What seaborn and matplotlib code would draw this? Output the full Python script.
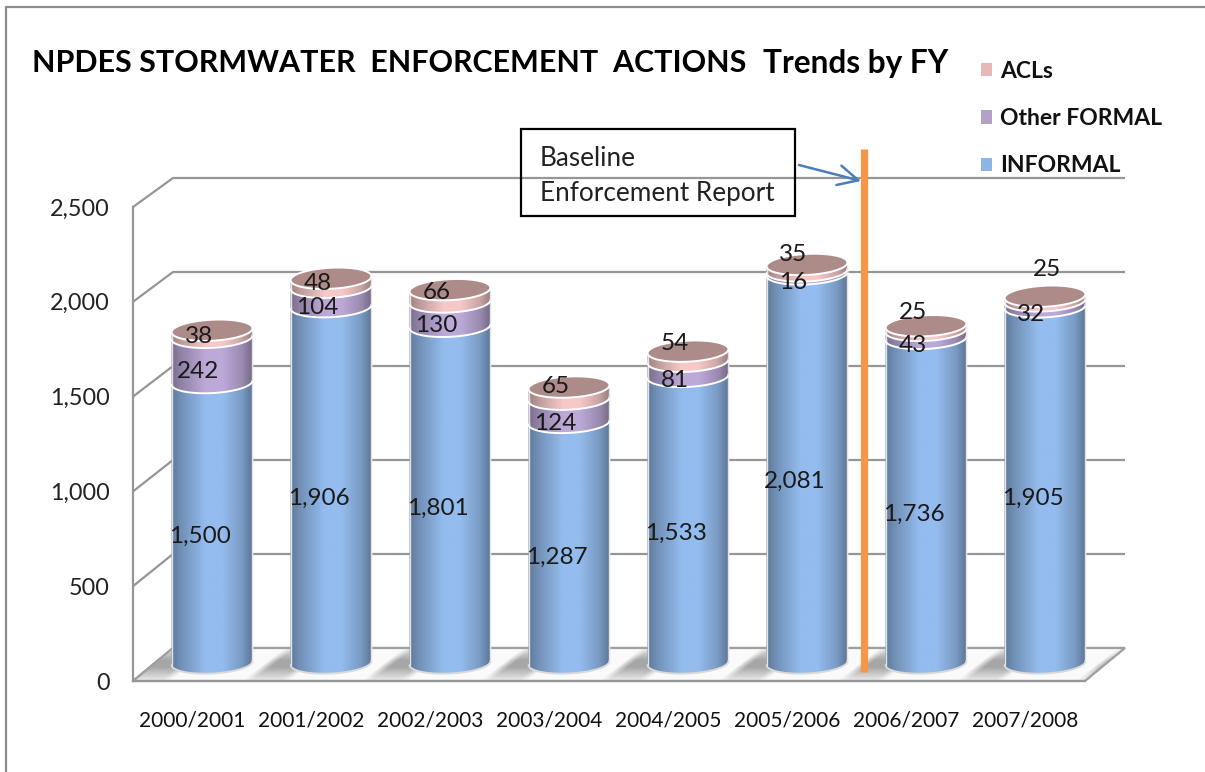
import numpy as np
import pandas as pd
import matplotlib
matplotlib.use("Agg")
import matplotlib.pyplot as plt
import seaborn as sns
from matplotlib.lines import Line2D
from matplotlib.path import Path
from matplotlib.patches import Polygon, Rectangle
from matplotlib.transforms import Affine2D, IdentityTransform

years = ["2000/2001", "2001/2002", "2002/2003", "2003/2004",
         "2004/2005", "2005/2006", "2006/2007", "2007/2008"]
informal = [1500, 1906, 1801, 1287, 1533, 2081, 1736, 1905]
other_formal = [242, 104, 130, 124, 81, 16, 43, 32]
acls = [38, 48, 66, 65, 54, 35, 25, 25]
yticks = [0, 500, 1000, 1500, 2000, 2500]

# label lift of the ACL numbers above their segment (pixels, hand-placed in the source)
acl_lift = [11, 12, 16, 21, 26, 26, 29, 42]

W, H = 1205, 772
DPI = 100
sns.set_theme(style="white")
plt.rcParams["font.family"] = ["Lato", "DejaVu Sans"]

fig = plt.figure(figsize=(W / DPI, H / DPI), dpi=DPI, facecolor="white")
ax = fig.add_axes([133 / W, (H - 681) / H, (1085 - 133) / W, (681 - 207) / H])
ax.set_facecolor("none")

df = pd.DataFrame({"year": years, "INFORMAL": informal,
                   "Other FORMAL": other_formal, "ACLs": acls})
BAR_W = 80 / 119
legend_cols = {"INFORMAL": "#8EB4E3", "Other FORMAL": "#B3A2C7", "ACLs": "#E6B8B7"}
base_cols = {"INFORMAL": "#94BCEE", "Other FORMAL": "#BCA9D8", "ACLs": "#F6C8C8"}
series = ["INFORMAL", "Other FORMAL", "ACLs"]

bottom = np.zeros(len(years))
for name in series:
    sns.barplot(data=df, x="year", y=name, bottom=bottom, color=base_cols[name],
                width=BAR_W, saturation=1, ax=ax, zorder=2, errorbar=None)
    bottom = bottom + df[name].to_numpy()

ax.set_xlim(-0.5, 7.5)
ax.set_ylim(0, 2500)
ax.set_yticks(yticks)
ax.set_yticklabels([f"{v:,}" for v in yticks])
ax.set_xlabel("")
ax.set_ylabel("")
ax.tick_params(axis="y", length=0, pad=17, labelsize=16.8, labelcolor="#222222")
ax.tick_params(axis="x", length=0, pad=21, labelsize=15, labelcolor="#111111")
for s in ["top", "right"]:
    ax.spines[s].set_visible(False)
for s in ["left", "bottom"]:
    ax.spines[s].set_color("#969696")
    ax.spines[s].set_linewidth(1.6)
    ax.spines[s].set_zorder(1)

# the bars stand in the middle of the chart's depth
ybase = H - 681
mid_tf = Affine2D().translate(0, -ybase).scale(1, 0.986).translate(19.5, ybase + 18)
for p in ax.patches:
    p.set_transform(ax.transData + mid_tf)
    p.set_clip_on(False)

idt = IdentityTransform()


def px(i, v):
    return mid_tf.transform(ax.transData.transform((i, v)))


RX, RY, TILT = 40.5, 10.5, np.deg2rad(3)


def arc(c, t0, t1, n=60):
    t = np.linspace(t0, t1, n)
    x, y = RX * np.cos(t), RY * np.sin(t)
    return np.column_stack([c[0] + x * np.cos(TILT) - y * np.sin(TILT),
                            c[1] + x * np.sin(TILT) + y * np.cos(TILT)])


def shade(hex_col):
    rgb = np.array(matplotlib.colors.to_rgb(hex_col))
    u = np.linspace(0, 1, 256)
    f = np.interp(u, [0, .12, .42, .62, .85, 1], [.62, .76, 1, 1, .82, .58])
    return (f[:, None] * rgb)[None, :, :]


# back wall, floor, grid
for v in yticks:
    k = v / 500
    back = Affine2D().translate(40, 33 - 0.8 * k)
    ax.hlines(v, -0.5, 7.5, transform=ax.transData + back, color="#969696",
              lw=1.6, zorder=0.5, clip_on=False)
    a = ax.transData.transform((-0.5, v))
    b = back.transform(a)
    ax.add_line(Line2D([a[0], b[0]], [a[1], b[1]], transform=idt, color="#969696",
                       lw=1.6, zorder=0.5, clip_on=False))

f0 = ax.transData.transform((-0.5, 0))
f1 = ax.transData.transform((7.5, 0))
floor_pts = np.array([f0, f1, f1 + [40, 33], f0 + [40, 33]])
fy, fx = np.mgrid[0:34, 0:1000]
# soft diagonal streaks cast between the cylinders (row 0 is the back of the floor)
phase = (fx - 147 + (fy - 22) * 1.3) / 119 * 2 * np.pi
streak = np.clip(np.cos(phase) * 2.2 - 0.7, 0, 1)
edge = np.clip(1.2 - np.abs(fy - 16) / 17, 0, 1)
gray = 0.98 - 0.33 * streak * edge
floor_img = ax.imshow(gray, cmap="gray", vmin=0, vmax=1, aspect="auto",
                      extent=(f0[0], f0[0] + 1000, f0[1], f0[1] + 34),
                      transform=idt, zorder=0.6, origin="upper", interpolation="bilinear")
floor_img.set_clip_box(fig.bbox)
floor_img.set_clip_path(Path(floor_pts), idt)
ax.add_patch(Polygon(floor_pts, closed=True, fill=False, ec="#A0A0A0", lw=1.6,
                     transform=idt, zorder=0.7, clip_on=False))

# cylinders on top of the seaborn bars
for i in range(len(years)):
    v0 = 0
    for name in series:
        v1 = v0 + df[name][i]
        c0, c1 = px(i, v0), px(i, v1)
        outline = np.vstack([arc(c0, np.pi, 2 * np.pi), arc(c1, 0, np.pi)])
        im = ax.imshow(shade(base_cols[name]), aspect="auto",
                       extent=(c0[0] - RX - 2, c0[0] + RX + 2,
                               c0[1] - 20, c1[1] + 20),
                       transform=idt, zorder=3, interpolation="bilinear")
        im.set_clip_box(fig.bbox)
        im.set_clip_path(Path(outline), idt)
        col = "#DADADA" if name == "INFORMAL" else "white"
        low = arc(c0, np.pi, 2 * np.pi)
        ax.add_line(Line2D(low[:, 0], low[:, 1], transform=idt, color=col, lw=1.4,
                           zorder=3.2, clip_on=False))
        for sx in (0, -1):
            ax.add_line(Line2D([low[sx, 0], low[sx, 0]], [low[sx, 1], c1[1]],
                               transform=idt, color="#E4E4E4", lw=1.0, zorder=3.2,
                               clip_on=False))
        v0 = v1
    top = arc(px(i, v0), 0, 2 * np.pi)
    ax.add_patch(Polygon(top, closed=True, fc="#AD8B88", ec="white", lw=1.4,
                         transform=idt, zorder=3.4, clip_on=False))

# value labels lie on the front plane
lab_kw = dict(xycoords="data", textcoords="offset pixels", ha="center", va="center",
              fontsize=17.5, color="#1A1A1A", zorder=6, annotation_clip=False)
for i in range(len(years)):
    ax.annotate(f"{informal[i]:,}", (i, informal[i] / 2), xytext=(7, 2), **lab_kw)
    ax.annotate(f"{other_formal[i]}", (i, informal[i] + other_formal[i] / 2),
                xytext=(6, 2), **lab_kw)
    ax.annotate(f"{acls[i]}", (i, informal[i] + other_formal[i] + acls[i] / 2),
                xytext=(6 if i < 7 else 21, acl_lift[i]), **lab_kw)

# orange marker between 2005/2006 and 2006/2007
ax.plot([5.64, 5.64], [47, 2806], color="#F79646", lw=5.2, solid_capstyle="butt",
        zorder=4, clip_on=False)

# call-out box
ax.add_patch(Rectangle((521, H - 216), 274, 87, fill=False, ec="black", lw=1.6,
                       transform=idt, zorder=5, clip_on=False))
fig.text(540 / W, 1 - 159 / H, "Baseline", fontsize=18.8, color="#222222",
         va="center", ha="left", zorder=6)
fig.text(540 / W, 1 - 193 / H, "Enforcement Report", fontsize=18.8, color="#222222",
         va="center", ha="left", zorder=6)
ax.annotate("", xy=(861, H - 181), xytext=(799, H - 165), xycoords="figure pixels",
            textcoords="figure pixels", zorder=5,
            arrowprops=dict(arrowstyle="->,head_length=1.2,head_width=0.6",
                            color="#4A7EBB", lw=1.8, shrinkA=0, shrinkB=0))

# title
fig.text(32 / W, 1 - 63 / H, "NPDES STORMWATER  ENFORCEMENT  ACTIONS", fontsize=21.85,
         fontweight="bold", color="black", va="center", ha="left")
fig.text(763 / W, 1 - 63 / H, "Trends by FY", fontsize=22.8, fontweight="bold",
         color="black", va="center", ha="left")

# legend
handles = [Rectangle((0, 0), 1, 1, fc=legend_cols[n], ec="none") for n in reversed(series)]
fig.legend(handles, list(reversed(series)), loc="upper left", frameon=False,
           bbox_to_anchor=(981 / W, 1 - 61 / H),
           prop=dict(family="Lato", weight="bold", size=16.5), labelcolor="#111111",
           handlelength=0.5, handleheight=0.5, handletextpad=0.35,
           labelspacing=1.14, borderpad=0, borderaxespad=0)

# outer chart frame, running off the page to the right and bottom
fig.add_artist(Line2D([6 / W, 6 / W, 1.0], [0, 1 - 7 / H, 1 - 7 / H],
                      color="#8C8C8C", lw=1.6))

ax.set_xlim(-0.5, 7.5)
ax.set_ylim(0, 2500)
fig.savefig("out.png", dpi=DPI, facecolor="white")
